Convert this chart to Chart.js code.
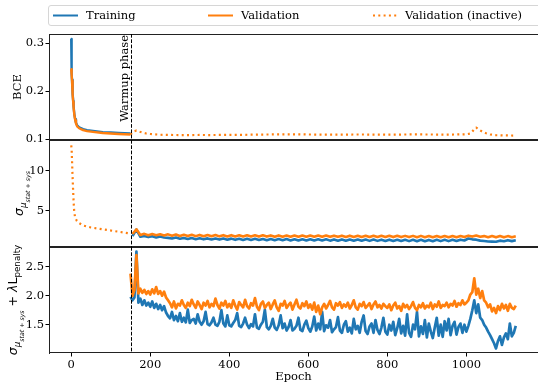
<!DOCTYPE html>
<html>
<head>
<meta charset="utf-8">
<script src="https://cdn.jsdelivr.net/npm/chart.js@4.4.0/dist/chart.umd.min.js"></script>
<style>
    html, body { margin: 0; padding: 0; background: #fff; overflow: hidden; }
    #wrap { position: relative; width: 538px; height: 386px; }
    #wrap canvas { position: absolute; left: 0; top: 0; }
    #legend {
        position: absolute; left: 48px; top: 5px; width: 520px; height: 19px;
        border: 1px solid #d6d6d6; border-radius: 3px; background: #fff;
        font: 11.5px 'DejaVu Serif'; color: #000;
    }
    #legend .item { position: absolute; top: 0; height: 19px; line-height: 19px; white-space: nowrap; }
    #legend svg { position: absolute; top: 0; }
</style>
</head>
<body>
<div id="wrap">
    <canvas id="bceChart" width="538" height="386"></canvas>
    <canvas id="sigmaChart" width="538" height="386"></canvas>
    <canvas id="penaltyChart" width="538" height="386"></canvas>
    <div id="legend">
        <svg width="520" height="19">
            <line x1="4" y1="9.5" x2="29" y2="9.5" stroke="#1f77b4" stroke-width="2"></line>
            <line x1="159" y1="9.5" x2="184" y2="9.5" stroke="#ff7f0e" stroke-width="2"></line>
            <line x1="324" y1="9.5" x2="349" y2="9.5" stroke="#ff7f0e" stroke-width="2" stroke-dasharray="2 3.3"></line>
        </svg>
        <span class="item" style="left:37px">Training</span>
        <span class="item" style="left:192px">Validation</span>
        <span class="item" style="left:356px">Validation (inactive)</span>
    </div>
</div>

<script>

// =====================
// DATA
// =====================

const WARMUP_EPOCH = 150;
const X_TICKS = [0, 200, 400, 600, 800, 1000];

// panel 1 : BCE
const BCE_TICKS = [0.1, 0.2, 0.3];
const BCE_EPOCHS = [0, 1, 2, 3, 4, 5, 6, 8, 10, 12, 15, 20, 30, 40, 60, 80, 100, 120, 150];
const BCE_TRAIN = [0.309, 0.237, 0.224, 0.210, 0.195, 0.180, 0.168, 0.152, 0.142, 0.135, 0.129, 0.125, 0.121, 0.119, 0.117, 0.115, 0.114, 0.113, 0.112];
const BCE_VAL = [0.246, 0.235, 0.222, 0.208, 0.193, 0.178, 0.166, 0.150, 0.140, 0.133, 0.127, 0.123, 0.119, 0.117, 0.115, 0.113, 0.112, 0.111, 0.110];

const BCE_INACTIVE_EPOCHS = [150, 155, 160, 165, 170, 180, 190, 200,
    225, 250, 275, 300, 325, 350, 375, 400, 425, 450, 475, 500, 525, 550, 575, 600,
    625, 650, 675, 700, 725, 750, 775, 800, 825, 850, 875, 900, 925, 950, 975,
    1000, 1010, 1015, 1020, 1025, 1030, 1040, 1050, 1060, 1075, 1100, 1125];
const BCE_VAL_INACTIVE = [0.110, 0.114, 0.117, 0.118, 0.1165, 0.114, 0.112, 0.111,
    0.1095, 0.109, 0.1088, 0.1088, 0.109, 0.1088, 0.109, 0.109, 0.1092, 0.1095, 0.1098, 0.110, 0.1102, 0.1103, 0.1102, 0.110,
    0.1098, 0.1097, 0.1096, 0.1098, 0.110, 0.1099, 0.1097, 0.1096, 0.1098, 0.110, 0.1101, 0.110, 0.1099, 0.1098, 0.110,
    0.1105, 0.112, 0.116, 0.121, 0.1245, 0.121, 0.116, 0.1125, 0.110, 0.1085, 0.108, 0.1077];

// panel 2 : sigma
const SIGMA_TICKS = [5, 10];
const SIGMA_WARMUP_EPOCHS = [0, 1, 2, 3, 4, 5, 6, 7, 8, 10, 14, 20, 30, 50, 70, 90, 110, 130, 150];
const SIGMA_VAL_INACTIVE = [13.14, 12.7, 11.3, 9.8, 8.5, 7.3, 6.2, 5.3, 4.7, 4.2, 3.8, 3.5, 3.2, 2.95, 2.8, 2.65, 2.5, 2.35, 2.2];

const SIGMA_EPOCHS = range(155, 1125, 10);
const SIGMA_TRAIN = [
    1.88, 2.70, 1.80, 1.90, 1.76, 1.86, 1.72, 1.83, 1.70, 1.66,
    1.58, 1.70, 1.55, 1.66, 1.52, 1.64, 1.50, 1.62, 1.48, 1.60,
    1.46, 1.59, 1.45, 1.58, 1.44, 1.57, 1.42, 1.56, 1.41, 1.55,
    1.40, 1.54, 1.39, 1.53, 1.38, 1.52, 1.37, 1.51, 1.36, 1.51,
    1.35, 1.50, 1.34, 1.49, 1.34, 1.49, 1.33, 1.48, 1.33, 1.48,
    1.32, 1.47, 1.31, 1.47, 1.31, 1.46, 1.30, 1.46, 1.30, 1.45,
    1.29, 1.45, 1.29, 1.44, 1.28, 1.44, 1.28, 1.43, 1.27, 1.43,
    1.26, 1.42, 1.25, 1.42, 1.24, 1.41, 1.25, 1.42, 1.26, 1.42,
    1.26, 1.43, 1.27, 1.44, 1.34, 1.58, 1.48, 1.44, 1.32, 1.28,
    1.22, 1.20, 1.18, 1.32, 1.24, 1.38, 1.26, 1.36
];
const SIGMA_VAL = [
    2.14, 2.72, 2.02, 2.16, 2.00, 2.14, 1.99, 2.12, 1.97, 2.10,
    1.92, 2.07, 1.90, 2.05, 1.89, 2.04, 1.88, 2.03, 1.87, 2.02,
    1.86, 2.01, 1.85, 2.00, 1.84, 2.00, 1.84, 1.99, 1.83, 1.99,
    1.83, 1.98, 1.82, 1.98, 1.82, 1.97, 1.81, 1.97, 1.81, 1.96,
    1.81, 1.96, 1.80, 1.96, 1.80, 1.95, 1.80, 1.95, 1.79, 1.95,
    1.79, 1.94, 1.79, 1.94, 1.78, 1.94, 1.78, 1.93, 1.78, 1.93,
    1.77, 1.93, 1.77, 1.92, 1.77, 1.92, 1.76, 1.92, 1.76, 1.91,
    1.76, 1.91, 1.75, 1.91, 1.75, 1.90, 1.75, 1.90, 1.74, 1.90,
    1.74, 1.90, 1.74, 1.89, 1.76, 1.94, 1.82, 1.95, 1.80, 1.88,
    1.74, 1.89, 1.73, 1.89, 1.73, 1.88, 1.74, 1.87
];

// panel 3 : sigma + lambda * L_penalty
const PENALTY_TICKS = [1.5, 2.0, 2.5];
const PENALTY_EPOCHS = range(150, 1125, 5);
const PENALTY_TRAIN = [
    1.98, 1.92, 1.97, 2.76, 1.88, 1.95, 1.84, 1.92, 1.83, 1.88,
    1.81, 1.90, 1.79, 1.86, 1.77, 1.84, 1.75, 1.82, 1.71, 1.65,
    1.61, 1.72, 1.58, 1.65, 1.56, 1.70, 1.55, 1.62, 1.54, 1.76,
    1.53, 1.58, 1.60, 1.52, 1.68, 1.55, 1.50, 1.56, 1.72, 1.51,
    1.49, 1.54, 1.62, 1.50, 1.48, 1.55, 1.75, 1.52, 1.47, 1.66,
    1.49, 1.47, 1.53, 1.58, 1.70, 1.48, 1.46, 1.52, 1.62, 1.50,
    1.44, 1.51, 1.47, 1.68, 1.45, 1.43, 1.50, 1.55, 1.76, 1.46,
    1.42, 1.48, 1.60, 1.45, 1.41, 1.49, 1.66, 1.44, 1.52, 1.40,
    1.46, 1.58, 1.40, 1.43, 1.48, 1.62, 1.41, 1.39, 1.50, 1.57,
    1.44, 1.38, 1.47, 1.64, 1.40, 1.52, 1.42, 1.72, 1.39, 1.49,
    1.45, 1.58, 1.37, 1.42, 1.46, 1.63, 1.40, 1.36, 1.50, 1.56,
    1.38, 1.45, 1.35, 1.60, 1.42, 1.48, 1.36, 1.55, 1.66, 1.39,
    1.34, 1.47, 1.52, 1.36, 1.58, 1.41, 1.34, 1.45, 1.62, 1.38,
    1.33, 1.50, 1.40, 1.55, 1.32, 1.44, 1.60, 1.35, 1.48, 1.31,
    1.68, 1.36, 1.29, 1.50, 1.42, 1.72, 1.30, 1.47, 1.34, 1.58,
    1.28, 1.52, 1.38, 1.27, 1.45, 1.62, 1.31, 1.50, 1.29, 1.56,
    1.40, 1.60, 1.32, 1.48, 1.55, 1.33, 1.46, 1.52, 1.36, 1.50,
    1.38, 1.48, 1.60, 1.75, 1.92, 1.70, 1.85, 1.62, 1.58, 1.50,
    1.45, 1.38, 1.32, 1.25, 1.18, 1.09, 1.22, 1.30, 1.15, 1.28,
    1.35, 1.25, 1.52, 1.30, 1.36, 1.48
];
const PENALTY_VAL = [
    2.38, 2.00, 2.10, 2.70, 2.04, 2.12, 2.05, 2.10, 2.03, 2.08,
    2.02, 2.11, 2.04, 2.15, 2.03, 2.08, 2.00, 2.07, 1.97, 1.92,
    1.87, 1.80, 1.90, 1.78, 1.86, 1.83, 1.92, 1.84, 1.79, 1.88,
    1.82, 1.93, 1.85, 1.79, 1.90, 1.84, 1.77, 1.88, 1.83, 1.91,
    1.80, 1.86, 1.82, 1.95, 1.84, 1.78, 1.88, 1.83, 1.91, 1.80,
    1.86, 1.79, 1.92, 1.83, 1.76, 1.89, 1.84, 1.80, 1.93, 1.82,
    1.78, 1.87, 1.83, 1.96, 1.81, 1.75, 1.86, 1.90, 1.79, 1.84,
    1.88, 1.77, 1.85, 1.92, 1.80, 1.74, 1.86, 1.83, 1.91, 1.79,
    1.84, 1.88, 1.76, 1.85, 1.93, 1.81, 1.78, 1.87, 1.82, 1.90,
    1.79, 1.85, 1.76, 1.88, 1.72, 1.83, 1.68, 1.80, 1.86, 1.78,
    1.84, 1.91, 1.80, 1.76, 1.87, 1.83, 1.89, 1.79, 1.85, 1.81,
    1.88, 1.78, 1.84, 1.92, 1.80, 1.76, 1.86, 1.82, 1.89, 1.79,
    1.83, 1.87, 1.77, 1.85, 1.90, 1.80, 1.84, 1.78, 1.86, 1.82,
    1.79, 1.85, 1.75, 1.83, 1.88, 1.78, 1.82, 1.74, 1.86, 1.80,
    1.84, 1.77, 1.82, 1.89, 1.79, 1.75, 1.84, 1.80, 1.87, 1.78,
    1.83, 1.80, 1.88, 1.77, 1.85, 1.81, 1.90, 1.79, 1.84, 1.82,
    1.88, 1.80, 1.86, 1.83, 1.91, 1.81, 1.87, 1.84, 1.92, 1.85,
    1.88, 1.92, 2.02, 2.06, 2.30, 2.02, 2.12, 1.96, 2.08, 1.92,
    1.88, 1.80, 1.85, 1.73, 1.79, 1.70, 1.82, 1.75, 1.86, 1.78,
    1.84, 1.74, 1.86, 1.79, 1.77, 1.83
];


// =====================
// HELPERS
// =====================

const BLUE = '#1f77b4';
const ORANGE = '#ff7f0e';
const TICK_FONT = { family: 'DejaVu Serif', size: 11.5 };
const X_MIN = -56.25, X_MAX = 1181.25;

function range(start, end, step) {
    const out = [];
    for (let v = start; v <= end; v += step) out.push(v);
    return out;
}

function points(xs, ys) {
    return xs.map((x, i) => ({ x: x, y: ys[i] }));
}

function lineSet(label, xs, ys, color, dotted, order, width) {
    return {
        label: label,
        data: points(xs, ys),
        borderColor: color,
        borderWidth: width || 2.2,
        borderDash: dotted ? [2, 3.3] : [],
        borderCapStyle: 'butt',
        borderJoinStyle: 'round',
        pointRadius: 0,
        tension: 0,
        fill: false,
        order: order
    };
}

function drawRich(ctx, parts, x, cy) {
    ctx.save();
    ctx.translate(x, cy);
    ctx.rotate(-Math.PI / 2);
    ctx.fillStyle = '#000';
    ctx.textAlign = 'left';
    ctx.textBaseline = 'alphabetic';
    let total = 0;
    parts.forEach(p => { ctx.font = p.font; p.w = ctx.measureText(p.text).width; total += p.w; });
    let cx = -total / 2;
    parts.forEach(p => { ctx.font = p.font; ctx.fillText(p.text, cx, p.dy || 0); cx += p.w; });
    ctx.restore();
}

// frame, warmup marker and y label
function panelPlugin(label) {
    return {
        id: 'panelDeco',
        afterDatasetsDraw(chart) {
            const ctx = chart.ctx;
            const a = chart.chartArea;
            const xs = chart.scales.x;
            ctx.save();
            ctx.strokeStyle = '#222';
            ctx.lineWidth = 1;
            ctx.beginPath();
            ctx.moveTo(a.left, a.top + 0.5); ctx.lineTo(a.right, a.top + 0.5);
            ctx.moveTo(a.left, a.bottom - 0.5); ctx.lineTo(a.right, a.bottom - 0.5);
            ctx.stroke();

            const wx = Math.round(xs.getPixelForValue(WARMUP_EPOCH)) + 0.5;
            ctx.strokeStyle = '#000';
            ctx.setLineDash([3.7, 1.6]);
            ctx.beginPath();
            ctx.moveTo(wx, a.top); ctx.lineTo(wx, a.bottom);
            ctx.stroke();
            ctx.restore();

            if (label.warmupText) {
                ctx.save();
                ctx.translate(wx - 1, a.top + 1);
                ctx.rotate(-Math.PI / 2);
                ctx.font = "11.5px 'DejaVu Serif'";
                ctx.fillStyle = '#000';
                ctx.textAlign = 'right';
                ctx.textBaseline = 'bottom';
                ctx.fillText('Warmup phase', 0, 0);
                ctx.restore();
            }
            drawRich(ctx, label.parts, label.x, (a.top + a.bottom) / 2);
        }
    };
}

function makePanel(id, cfg) {
    new Chart(document.getElementById(id), {
        type: 'line',
        data: { datasets: cfg.datasets },
        options: {
            responsive: false,
            maintainAspectRatio: false,
            animation: false,
            layout: { padding: { top: cfg.top, bottom: cfg.bottom, left: 0, right: 0 } },
            plugins: { legend: { display: false }, tooltip: { enabled: false } },
            scales: {
                x: {
                    type: 'linear',
                    min: X_MIN,
                    max: X_MAX,
                    display: cfg.showX,
                    afterBuildTicks: s => { s.ticks = X_TICKS.map(v => ({ value: v })); },
                    afterFit: s => { if (cfg.showX) s.height = 33; },
                    grid: { drawOnChartArea: false, drawTicks: true, tickLength: 3.5, color: '#000' },
                    border: { display: false },
                    ticks: { font: TICK_FONT, color: '#000', padding: 2, maxRotation: 0, callback: v => String(v) },
                    title: {
                        display: true, text: 'Epoch', font: TICK_FONT, color: '#000',
                        padding: { top: 0, bottom: 2 }
                    }
                },
                y: {
                    type: 'linear',
                    min: cfg.yMin,
                    max: cfg.yMax,
                    afterBuildTicks: s => { s.ticks = cfg.yTicks.map(v => ({ value: v })); },
                    afterFit: s => { s.width = 49; },
                    grid: { drawOnChartArea: false, drawTicks: true, tickLength: 3.5, color: '#000' },
                    border: { display: true, color: '#222', width: 1 },
                    ticks: {
                        font: TICK_FONT, color: '#000', padding: 1.5,
                        callback: v => cfg.fmt(v)
                    }
                }
            }
        },
        plugins: [panelPlugin(cfg.label)]
    });
}

const MATH = "'DejaVu Sans'";
const sigmaParts = (fs) => [
    { text: 'σ', font: `italic ${fs}px ${MATH}` },
    { text: 'μ', font: `italic ${fs * 0.7}px ${MATH}`, dy: 3 },
    { text: 'stat + sys', font: `italic ${fs * 0.5}px ${MATH}`, dy: 6.5 }
];

document.addEventListener("DOMContentLoaded", function () {

    makePanel('bceChart', {
        top: 34, bottom: 246, showX: false,
        yMin: 0.0985, yMax: 0.3194, yTicks: BCE_TICKS, fmt: v => v.toFixed(1),
        label: {
            x: 21, warmupText: true,
            parts: [{ text: 'BCE', font: "11.5px 'DejaVu Serif'" }]
        },
        datasets: [
            lineSet('Training', BCE_EPOCHS, BCE_TRAIN, BLUE, false, 2, 2.4),
            lineSet('Validation', BCE_EPOCHS, BCE_VAL, ORANGE, false, 1, 2.4),
            lineSet('Validation (inactive)', BCE_INACTIVE_EPOCHS, BCE_VAL_INACTIVE, ORANGE, true, 1, 2.2)
        ]
    });

    makePanel('sigmaChart', {
        top: 140, bottom: 139, showX: false,
        yMin: 0.53, yMax: 13.81, yTicks: SIGMA_TICKS, fmt: v => String(v),
        label: { x: 23, parts: sigmaParts(12.5) },
        datasets: [
            lineSet('Training', SIGMA_EPOCHS, SIGMA_TRAIN, BLUE, false, 2, 2.6),
            lineSet('Validation', SIGMA_EPOCHS, SIGMA_VAL, ORANGE, false, 1, 2.6),
            lineSet('Validation (inactive)', SIGMA_WARMUP_EPOCHS, SIGMA_VAL_INACTIVE, ORANGE, true, 1, 2.2)
        ]
    });

    makePanel('penaltyChart', {
        top: 247, bottom: 0, showX: true,
        yMin: 1.012, yMax: 2.84, yTicks: PENALTY_TICKS, fmt: v => v.toFixed(1),
        label: {
            x: 17,
            parts: sigmaParts(12.5).concat([
                { text: ' + ', font: `12.5px ${MATH}` },
                { text: 'λ', font: `italic 12.5px ${MATH}` },
                { text: 'L', font: `12.5px ${MATH}` },
                { text: 'penalty', font: `8.75px ${MATH}`, dy: 3 }
            ])
        },
        datasets: [
            lineSet('Training', PENALTY_EPOCHS, PENALTY_TRAIN, BLUE, false, 2, 2.7),
            lineSet('Validation', PENALTY_EPOCHS, PENALTY_VAL, ORANGE, false, 1, 2.7)
        ]
    });

});
</script>
</body>
</html>
